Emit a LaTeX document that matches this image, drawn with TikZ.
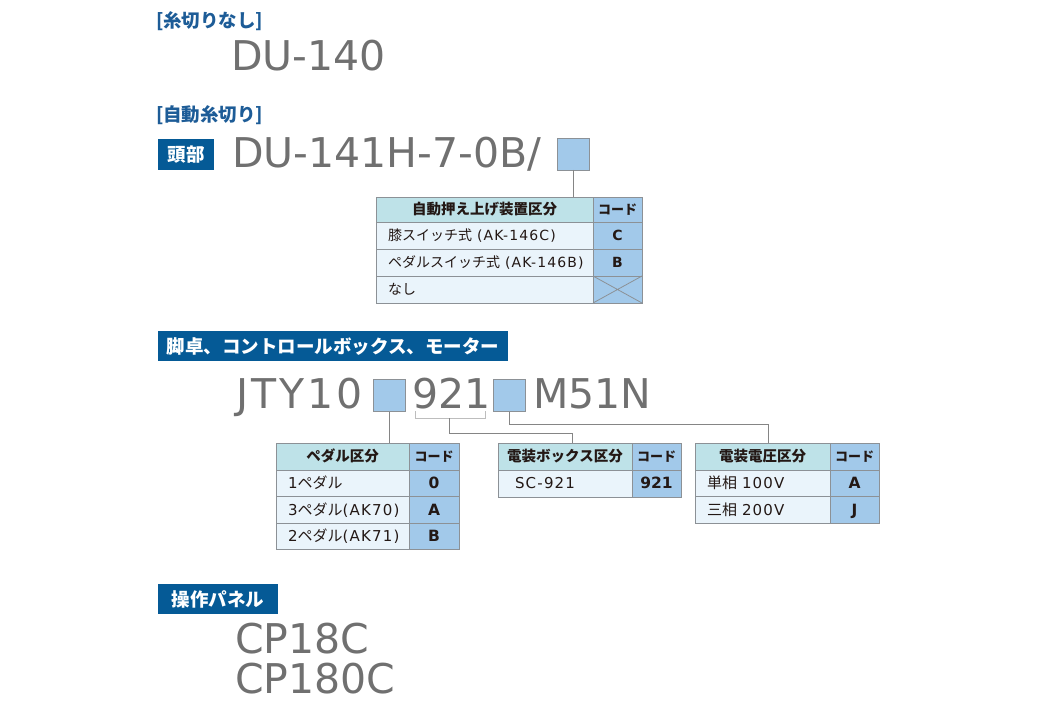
\documentclass[tikz,border=0pt]{standalone}
\usepackage{fontspec}
\newfontfamily\jp{Noto Sans CJK JP}
\newfontfamily\lat{DejaVu Sans}
\newfontfamily\latsp[LetterSpace=8]{DejaVu Sans}
\definecolor{bannerblue}{HTML}{055A96}
\definecolor{tagblue}{HTML}{1D5C97}
\definecolor{modelgray}{HTML}{707070}
\definecolor{squareblue}{HTML}{A2C9EA}
\definecolor{headteal}{HTML}{BEE2E8}
\definecolor{rowblue}{HTML}{EAF4FB}
\definecolor{rulegray}{HTML}{8C9196}
\definecolor{linkgray}{HTML}{858585}
\definecolor{bracegray}{HTML}{BDBDBD}
\definecolor{inkblack}{HTML}{231815}
\def\drawlink{\draw[color=linkgray, line width=0.9pt]}
\def\cellen#1{\mbox{\latsp #1}}

\begin{document}
\begin{tikzpicture}[x=1pt,y=-1pt,inner sep=0pt,outer sep=0pt,
  tag/.style={anchor=west,text=tagblue,font=\jp\bfseries\fontsize{18.5}{18.5}\selectfont,text height=15pt,text depth=1.5pt},
  banner/.style={anchor=north west,fill=bannerblue,text=white,font=\jp\bfseries\fontsize{18.5}{18.5}\selectfont,text height=15.7pt,text depth=1.5pt},
  model/.style={anchor=base west,text=modelgray,font=\lat\fontsize{41}{41}\selectfont},
  square/.style={anchor=north west,draw=rulegray,fill=squareblue,line width=0.9pt,minimum size=32pt},
  cell/.style={anchor=north west,draw=rulegray,line width=0.9pt,text=inkblack,minimum height=27pt,text height=12pt,text depth=1.2pt},
  hcell/.style={cell,fill=headteal,font=\jp\bfseries\fontsize{14.5}{14.5}\selectfont},
  chcell/.style={cell,fill=squareblue,font=\jp\bfseries\fontsize{13}{13}\selectfont},
  ccell/.style={cell,fill=squareblue,font=\lat\bfseries\fontsize{14}{14}\selectfont},
  bcell/.style={cell,fill=rowblue,font=\jp\fontsize{14}{14}\selectfont,inner xsep=12pt,align=left},
  lowb/.style={bcell,minimum height=26.5pt,font=\jp\fontsize{15}{15}\selectfont},
  lowc/.style={ccell,minimum height=26.5pt,font=\lat\bfseries\fontsize{15.5}{15.5}\selectfont}]
\useasboundingbox (0,0) rectangle (1060,711);

\node[tag] (nocut) at (156,21) {[糸切りなし]};
\node[model] (du140) at (231,70.5) {DU-140};
\node[tag] (autocut) at (156,114.5) {[自動糸切り]};
\node[banner,minimum width=56pt,minimum height=31pt] (head) at (158,139) {頭部};
\node[model] (du141) at (232,168) {DU-141H-7-0B/};
\node[square] (sqak) at (557,138) {};

\node[hcell,minimum width=217pt,minimum height=25pt] (akh) at (376,197) {自動押え上げ装置区分};
\node[chcell,minimum width=49pt,minimum height=25pt] (akhc) at (593,197) {コード};
\node[bcell,text width=193pt] (ak1) at (376,222) {膝スイッチ式\kern5pt\cellen{(AK-146C)}};
\node[ccell,minimum width=49pt] (ak1c) at (593,222) {C};
\node[bcell,text width=193pt] (ak2) at (376,249) {ペダルスイッチ式\kern5pt\cellen{(AK-146B)}};
\node[ccell,minimum width=49pt] (ak2c) at (593,249) {B};
\node[bcell,text width=193pt] (ak3) at (376,276) {なし};
\node[ccell,minimum width=49pt] (ak3c) at (593,276) {};
\draw[rulegray,line width=0.8pt] (ak3c.north west) -- (ak3c.south east) (ak3c.north east) -- (ak3c.south west);
\drawlink (sqak.south) -- (sqak.south |- akh.north);

\node[banner,minimum width=350pt,minimum height=30pt] (stand) at (158,331) {脚卓、コントロールボックス、モーター};
\node[model] (jty) at (236,408) {J\kern3pt T\kern3pt Y\kern3pt 1\kern3pt 0};
\node[square] (sqpd) at (373.5,379.5) {};
\node[model] (n921) at (412,408) {921};
\node[square] (sqev) at (493.5,379.5) {};
\node[model] (m51n) at (533,408) {M51N};

\node[hcell,minimum width=133pt] (pdh) at (276,443) {ペダル区分};
\node[chcell,minimum width=50pt] (pdhc) at (409,443) {コード};
\node[lowb,text width=109pt] (pd1) at (276,470) {\cellen{1}ペダル};
\node[lowc,minimum width=50pt] (pd1c) at (409,470) {0};
\node[lowb,text width=109pt] (pd2) at (276,496.5) {\cellen{3}ペダル\cellen{(AK70)}};
\node[lowc,minimum width=50pt] (pd2c) at (409,496.5) {A};
\node[lowb,text width=109pt] (pd3) at (276,523) {\cellen{2}ペダル\cellen{(AK71)}};
\node[lowc,minimum width=50pt] (pd3c) at (409,523) {B};

\node[hcell,minimum width=134pt] (ebh) at (498,443) {電装ボックス区分};
\node[chcell,minimum width=49pt] (ebhc) at (632,443) {コード};
\node[lowb,minimum height=27pt,inner xsep=17pt,text width=100pt] (eb1) at (498,470) {\cellen{SC-921}};
\node[lowc,minimum height=27pt,minimum width=49pt] (eb1c) at (632,470) {921};

\node[hcell,minimum width=135pt] (evh) at (695,443) {電装電圧区分};
\node[chcell,minimum width=49pt] (evhc) at (830,443) {コード};
\node[lowb,text width=111pt] (ev1) at (695,470) {単相\ \cellen{100V}};
\node[lowc,minimum width=49pt] (ev1c) at (830,470) {A};
\node[lowb,text width=111pt] (ev2) at (695,496.5) {三相\ \cellen{200V}};
\node[lowc,minimum width=49pt] (ev2c) at (830,496.5) {J};

\coordinate (brl) at (415.5,411);
\coordinate (brr) at (485,411);
\coordinate (brm) at (449.5,418);
\coordinate (bxbend) at (572.5,433);
\coordinate (evbend) at (768,424);
\draw[bracegray,line width=1pt] (brl) -- ++(0,7) -| (brr);
\drawlink (sqpd.south) -- (sqpd.south |- pdh.north);
\drawlink (brm) |- (bxbend) -- (bxbend |- ebh.north);
\drawlink (sqev.south) |- (evbend) -- (evbend |- evh.north);

\node[banner,minimum width=120pt,minimum height=30pt] (panel) at (158,584) {操作パネル};
\node[model] (cp18) at (235,653) {CP18C};
\node[model] (cp180) at (235,693) {CP180C};
\end{tikzpicture}
\end{document}
